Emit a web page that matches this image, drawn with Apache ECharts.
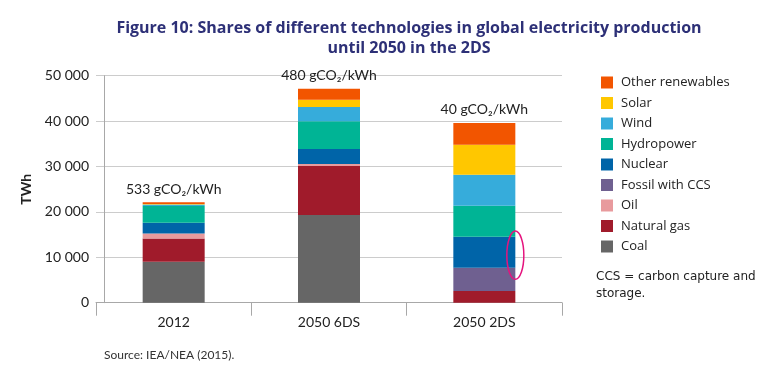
<!DOCTYPE html>
<html>
<head>
<meta charset="utf-8">
<script src="https://cdn.jsdelivr.net/npm/echarts@6/dist/echarts.min.js"></script>
<style>html,body{margin:0;padding:0;background:#fff;}#c{width:780px;height:380px;}</style>
</head>
<body>
<div id="c"></div>
<script>
var categories = ['2012', '2050 6DS', '2050 2DS'];
var coal = [9000, 19300, 0];
var naturalGas = [5150, 10800, 2550];
var oil = [1100, 450, 0];
var fossilCCS = [0, 0, 5150];
var nuclear = [2350, 3300, 6850];
var hydropower = [3700, 6100, 6830];
var wind = [350, 3150, 6830];
var solar = [100, 1600, 6600];
var otherRenewables = [400, 2450, 4780];
var intensity = [533, 480, 40];
var seriesNames = ['Coal', 'Natural gas', 'Oil', 'Fossil with CCS', 'Nuclear', 'Hydropower', 'Wind', 'Solar', 'Other renewables'];
var seriesColors = ['#666666', '#a01b2b', '#e89a9d', '#6f6090', '#0064a8', '#00b495', '#36acdb', '#ffc700', '#f25500'];
var seriesData = [coal, naturalGas, oil, fossilCCS, nuclear, hydropower, wind, solar, otherRenewables];

var FONT = 'Lato';
var chart = echarts.init(document.getElementById('c'), null, {renderer: 'canvas'});

var series = seriesNames.map(function (n, i) {
  var s = {
    name: n, type: 'bar', stack: 'total', barWidth: 62,
    data: seriesData[i],
    itemStyle: {color: seriesColors[i]},
    emphasis: {disabled: true}
  };
  if (i === seriesNames.length - 1) {
    s.label = {
      show: true, position: 'top', distance: 6,
      fontFamily: FONT, fontSize: 14, color: '#222',
      formatter: function (p) { return intensity[p.dataIndex] + ' gCO\u2082/kWh'; }
    };
  }
  return s;
});

var staticGraphics = [
  {type: 'text', left: 596, top: 268, style: {text: 'CCS = carbon capture and\nstorage.', fontFamily: 'DejaVu Sans', fontSize: 12, lineHeight: 17, fill: '#222'}},
  {type: 'text', left: 104, top: 349, style: {text: 'Source: IEA/NEA (2015).', fontFamily: FONT, fontSize: 12, fill: '#333'}}
];

var option = {
  animation: false,
  title: {
    text: 'Figure 10: Shares of different technologies in global electricity production\nuntil 2050 in the 2DS',
    left: 404, top: 13, textAlign: 'center',
    textStyle: {fontFamily: 'Open Sans', fontWeight: 'bold', fontSize: 16, color: '#2d3077', lineHeight: 20.5}
  },
  legend: {
    orient: 'vertical', left: 596, top: 71,
    itemWidth: 12, itemHeight: 12, itemGap: 7.5,
    icon: 'rect',
    data: seriesNames.slice().reverse(),
    textStyle: {fontFamily: 'Open Sans', fontSize: 13, color: '#222', padding: [0, 0, 0, 3]},
    selectedMode: false
  },
  grid: {left: 96, right: 218, top: 75.7, bottom: 77.3},
  xAxis: {
    type: 'category', data: categories,
    axisLine: {lineStyle: {color: '#a8a8a8', width: 1}},
    axisTick: {show: true, length: 13, alignWithLabel: false, lineStyle: {color: '#a8a8a8'}},
    axisLabel: {fontFamily: FONT, fontSize: 14, color: '#222', margin: 13}
  },
  yAxis: {
    type: 'value', min: 0, max: 50000, interval: 10000, offset: -8,
    name: 'TWh', nameLocation: 'middle', nameRotate: 90, nameGap: 68,
    nameTextStyle: {fontFamily: FONT, fontWeight: 'bold', fontSize: 14, color: '#222'},
    axisLine: {show: true, lineStyle: {color: '#a8a8a8', width: 1}},
    axisTick: {show: false},
    splitLine: {lineStyle: {color: '#cccccc', width: 1}},
    axisLabel: {
      fontFamily: FONT, fontSize: 14, color: '#222', margin: 15, padding: [0, 0, 6, 0],
      formatter: function (v) { return v === 0 ? '0' : String(v).replace(/\B(?=(\d{3})+(?!\d))/g, ' '); }
    }
  },
  series: series,
  graphic: staticGraphics
};
chart.setOption(option);

// annotation ellipse around the right edge of the 2DS nuclear segment
var idx = 2;
var nucBase = coal[idx] + naturalGas[idx] + oil[idx] + fossilCCS[idx];
var nucMid = nucBase + nuclear[idx] / 2;
var pMid = chart.convertToPixel({gridIndex: 0}, [categories[idx], nucMid]);
var pLo = chart.convertToPixel({gridIndex: 0}, [categories[idx], nucBase]);
var ry = (pLo[1] - pMid[1]) * 1.55;
chart.setOption({
  graphic: staticGraphics.concat([
    {type: 'ellipse', shape: {cx: pMid[0] + 31, cy: pMid[1] + 3, rx: 8.5, ry: ry},
     style: {fill: 'none', stroke: '#e5147e', lineWidth: 1.5}, z: 100}
  ])
});
</script>
</body>
</html>
